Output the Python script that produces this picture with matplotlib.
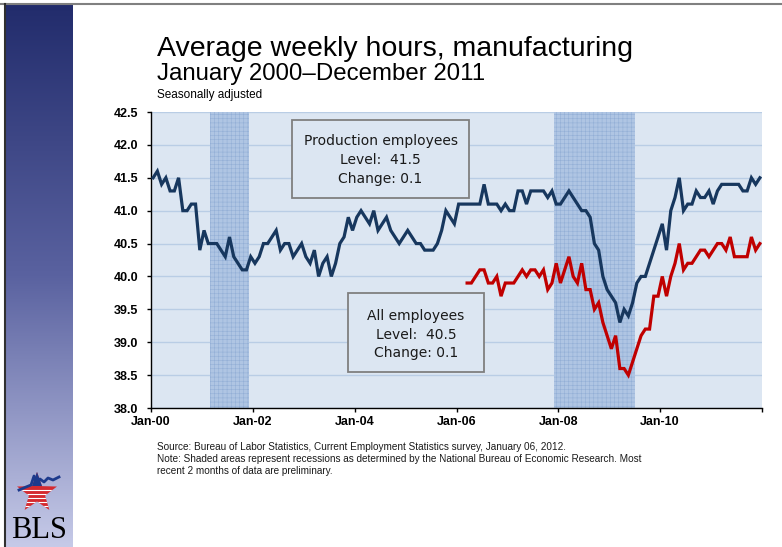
import numpy as np
import matplotlib
matplotlib.use('Agg')
import matplotlib.pyplot as plt
from matplotlib.patches import Rectangle, Polygon
from matplotlib.lines import Line2D
from matplotlib.colors import LinearSegmentedColormap

# monthly data, Jan 2000 - Dec 2011
prod_hours = [
    41.5, 41.6, 41.4, 41.5, 41.3, 41.3, 41.5, 41.0, 41.0, 41.1,
    41.1, 40.4, 40.7, 40.5, 40.5, 40.5, 40.4, 40.3, 40.6, 40.3,
    40.2, 40.1, 40.1, 40.3, 40.2, 40.3, 40.5, 40.5, 40.6, 40.7,
    40.4, 40.5, 40.5, 40.3, 40.4, 40.5, 40.3, 40.2, 40.4, 40.0,
    40.2, 40.3, 40.0, 40.2, 40.5, 40.6, 40.9, 40.7, 40.9, 41.0,
    40.9, 40.8, 41.0, 40.7, 40.8, 40.9, 40.7, 40.6, 40.5, 40.6,
    40.7, 40.6, 40.5, 40.5, 40.4, 40.4, 40.4, 40.5, 40.7, 41.0,
    40.9, 40.8, 41.1, 41.1, 41.1, 41.1, 41.1, 41.1, 41.4, 41.1,
    41.1, 41.1, 41.0, 41.1, 41.0, 41.0, 41.3, 41.3, 41.1, 41.3,
    41.3, 41.3, 41.3, 41.2, 41.3, 41.1, 41.1, 41.2, 41.3, 41.2,
    41.1, 41.0, 41.0, 40.9, 40.5, 40.4, 40.0, 39.8, 39.7, 39.6,
    39.3, 39.5, 39.4, 39.6, 39.9, 40.0, 40.0, 40.2, 40.4, 40.6,
    40.8, 40.4, 41.0, 41.2, 41.5, 41.0, 41.1, 41.1, 41.3, 41.2,
    41.2, 41.3, 41.1, 41.3, 41.4, 41.4, 41.4, 41.4, 41.4, 41.3,
    41.3, 41.5, 41.4, 41.5,
]

# all employees series starts March 2006 (month index 74)
all_start = 74
all_hours = [
    39.9, 39.9, 40.0, 40.1, 40.1, 39.9, 39.9, 40.0, 39.7, 39.9,
    39.9, 39.9, 40.0, 40.1, 40.0, 40.1, 40.1, 40.0, 40.1, 39.8,
    39.9, 40.2, 39.9, 40.1, 40.3, 40.0, 39.9, 40.2, 39.8, 39.8,
    39.5, 39.6, 39.3, 39.1, 38.9, 39.1, 38.6, 38.6, 38.5, 38.7,
    38.9, 39.1, 39.2, 39.2, 39.7, 39.7, 40.0, 39.7, 40.0, 40.2,
    40.5, 40.1, 40.2, 40.2, 40.3, 40.4, 40.4, 40.3, 40.4, 40.5,
    40.5, 40.4, 40.6, 40.3, 40.3, 40.3, 40.3, 40.6, 40.4, 40.5,
]

x_tick_labels = ['Jan-00', 'Jan-02', 'Jan-04', 'Jan-06', 'Jan-08', 'Jan-10', '']
y_ticks = [38.0, 38.5, 39.0, 39.5, 40.0, 40.5, 41.0, 41.5, 42.0, 42.5]
# recessions as month index ranges (Mar 2001-Nov 2001, Dec 2007-Jun 2009)
recessions = [(14, 23), (95, 114)]

prod_box = ['Production employees', 'Level:  41.5', 'Change: 0.1']
all_box = ['All employees', 'Level:  40.5', 'Change: 0.1']

W, H = 782, 547


def fx(px):
    return px / W


def fy(py):
    return 1 - py / H


fig = plt.figure(figsize=(W / 100, H / 100), dpi=100)
fig.patch.set_facecolor('white')

# left gradient band
gax = fig.add_axes([fx(6), 0, fx(73) - fx(6), fy(5)])
cmap = LinearSegmentedColormap.from_list('band', ['#222c6c', '#5a62a0', '#c6cae8'])
gax.imshow(np.linspace(0, 1, 256).reshape(-1, 1), aspect='auto', cmap=cmap)
gax.axis('off')

# frame lines
fig.add_artist(Line2D([0, 1], [fy(4), fy(4)], color='#808080', lw=1.5))
fig.add_artist(Line2D([fx(5), fx(5)], [0, fy(4)], color='#303030', lw=1.5))

# BLS logo
lax = fig.add_axes([fx(6), 0, fx(73) - fx(6), 87 / H])
lax.set_xlim(6, 73)
lax.set_ylim(547, 460)
lax.axis('off')
cx, cy, R, r_in = 37, 493, 21, 8.5
pts = []
for k in range(10):
    ang = -np.pi / 2 + k * np.pi / 5
    rr = R if k % 2 == 0 else r_in
    pts.append((cx + rr * np.cos(ang), cy + rr * np.sin(ang)))
star = Polygon(pts, closed=True, facecolor='#d42a2f', edgecolor='none')
lax.add_patch(star)
top = Rectangle((10, 468), 60, 18, facecolor='#1d3a8c', edgecolor='none')
lax.add_patch(top)
top.set_clip_path(star)
for yy in np.arange(490, 516, 4):
    ln, = lax.plot([10, 70], [yy, yy], color='white', lw=0.8)
    ln.set_clip_path(star)
lax.plot([19, 26, 31, 34, 37, 40, 44, 48, 53, 59],
         [490, 487, 485, 476, 484, 479, 482, 478, 480, 477],
         color='#1d3a8c', lw=2)
lax.text(39, 530, 'BLS', family='Liberation Serif', fontsize=22,
         ha='center', va='center', color='black')

# titles
fig.text(fx(157), fy(56), 'Average weekly hours, manufacturing',
         family='Liberation Sans', fontsize=20.5, va='baseline')
fig.text(fx(157), fy(80), 'January 2000\u2013December 2011',
         family='Liberation Sans', fontsize=17.3, va='baseline')
fig.text(fx(157), fy(98), 'Seasonally adjusted',
         family='Liberation Sans', fontsize=8.5, va='baseline')

# main chart
ax = fig.add_axes([fx(151), fy(408), fx(762) - fx(151), fy(112) - fy(408)])
ax.set_facecolor('#dce6f2')
plt.rcParams['hatch.linewidth'] = 0.4
for a, b in recessions:
    ax.axvspan(a, b, facecolor='#afc5e3', edgecolor='#93afd6',
               hatch='++++', linewidth=0, zorder=1)

x_prod = np.arange(len(prod_hours)) + 0.5
x_all = np.arange(all_start, all_start + len(all_hours)) + 0.5
ax.plot(x_prod, prod_hours, color='#17375e', lw=2.3, zorder=3,
        solid_joinstyle='miter')
ax.plot(x_all, all_hours, color='#c00000', lw=2.3, zorder=3,
        solid_joinstyle='miter')

ax.set_xlim(0, 144)
ax.set_ylim(38, 42.5)
ax.set_yticks(y_ticks)
ax.set_yticklabels([f'{v:.1f}' for v in y_ticks], family='Liberation Sans',
                   fontweight='bold', fontsize=9)
ax.set_xticks(range(0, 145, 24))
ax.set_xticklabels(x_tick_labels, family='Liberation Sans',
                   fontweight='bold', fontsize=9)
ax.yaxis.grid(True, color='#b9cde5', lw=1)
ax.set_axisbelow(True)
for s in ['top', 'right']:
    ax.spines[s].set_visible(False)
for s in ['left', 'bottom']:
    ax.spines[s].set_color('black')
    ax.spines[s].set_linewidth(1)
ax.tick_params(axis='y', direction='out', length=3, width=1, pad=6)
ax.tick_params(axis='x', direction='out', length=3, width=1, pad=3)

# annotation boxes (pixel extents in the figure)
boxes = [
    ((292, 120, 469, 198), prod_box, [141, 160, 179]),
    ((348, 293, 484, 372), all_box, [316, 335, 353]),
]
for (x0, y0, x1, y1), lines, ys in boxes:
    bx0 = (x0 - 151) / 611
    bx1 = (x1 - 151) / 611
    by0 = (408 - y1) / 296
    by1 = (408 - y0) / 296
    ax.add_patch(Rectangle((bx0, by0), bx1 - bx0, by1 - by0,
                           transform=ax.transAxes, facecolor='#dce6f2',
                           edgecolor='#7f7f7f', lw=1.3, zorder=4))
    for txt, yy in zip(lines, ys):
        ax.text((bx0 + bx1) / 2, (408 - yy) / 296, txt, transform=ax.transAxes,
                ha='center', va='center', fontsize=10, family='DejaVu Sans',
                color='#1a1a1a', zorder=5)

# source note
notes = [
    'Source: Bureau of Labor Statistics, Current Employment Statistics survey, January 06, 2012.',
    'Note: Shaded areas represent recessions as determined by the National Bureau of Economic Research. Most',
    'recent 2 months of data are preliminary.',
]
for i, t in enumerate(notes):
    fig.text(fx(157), fy(450 + i * 12), t, family='Liberation Sans',
             fontsize=7.2, va='baseline', color='#1a1a1a')

fig.savefig('out.png', dpi=100)
